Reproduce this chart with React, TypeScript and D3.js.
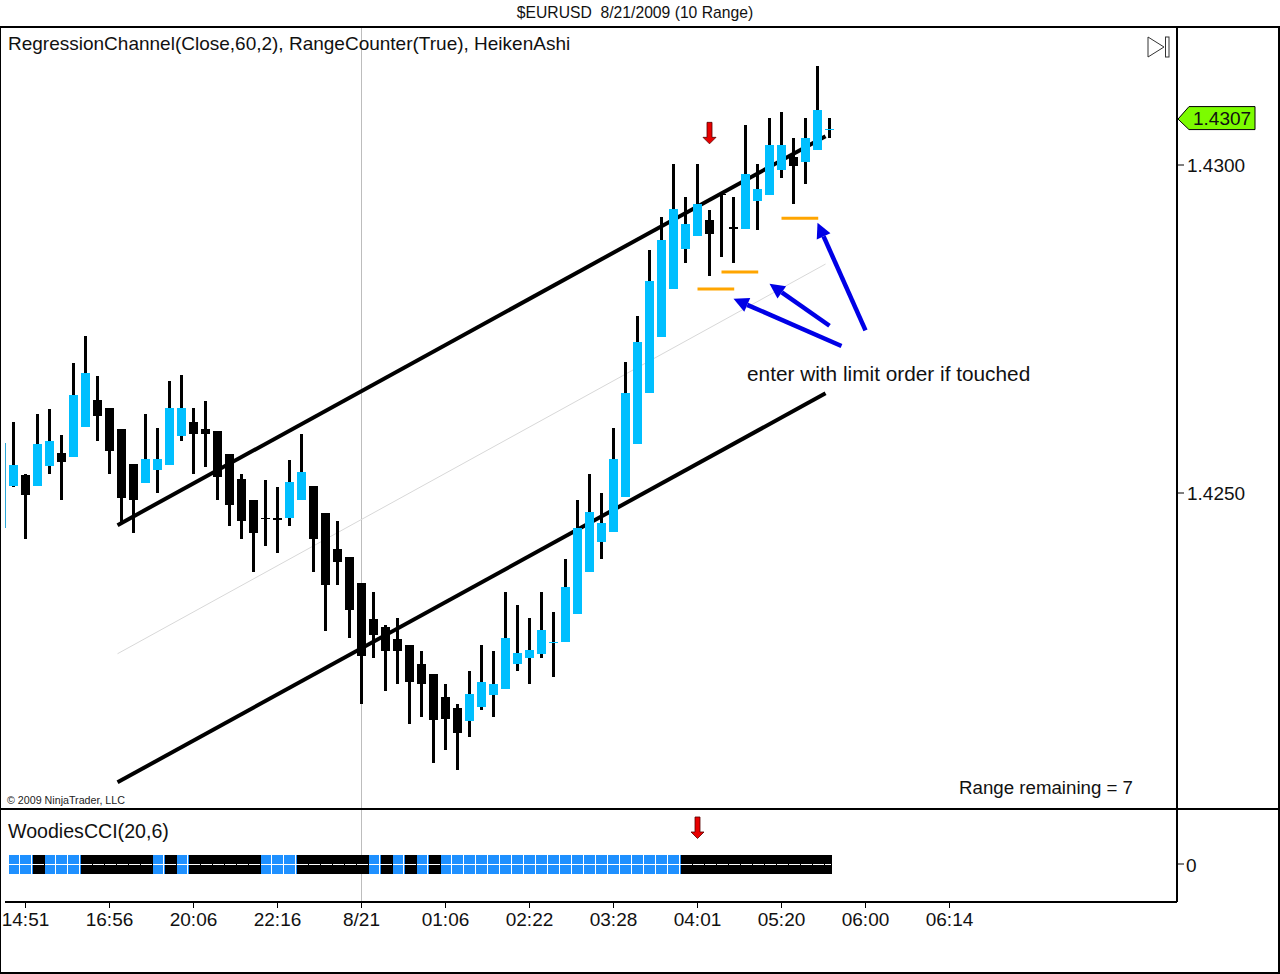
import React from 'react';
import * as d3 from 'd3';

// heiken ashi bars
const opens = [
  1.42511, 1.42527, 1.42511, 1.42541, 1.42561, 1.42555, 1.42601, 1.42642, 1.4263, 1.42598,
  1.42544, 1.42515, 1.42535, 1.42543, 1.42587, 1.42608, 1.42598, 1.42595, 1.42559, 1.42521,
  1.42489, 1.42462, 1.42462, 1.42462, 1.42489, 1.42511, 1.4247, 1.42415, 1.42402, 1.42363,
  1.42308, 1.42296, 1.42277, 1.42268, 1.42239, 1.42224, 1.42189, 1.42172, 1.42152, 1.42174,
  1.42192, 1.42201, 1.42239, 1.42248, 1.42255, 1.42272, 1.42273, 1.42316, 1.4238, 1.42425,
  1.42441, 1.42494, 1.42575, 1.42652, 1.42738, 1.42811, 1.42872, 1.42892, 1.42916, 1.42956,
  1.42905, 1.42902, 1.42945, 1.42954, 1.42992, 1.43012, 1.43005, 1.43023, 1.43054,
];
const highs = [
  1.42608, 1.42529, 1.4262, 1.42628, 1.42588, 1.42698, 1.42739, 1.42678, 1.4263, 1.42598,
  1.42544, 1.4262, 1.42599, 1.42671, 1.4268, 1.4263, 1.4264, 1.42595, 1.42559, 1.42529,
  1.42489, 1.4252, 1.42509, 1.4255, 1.4259, 1.42511, 1.4247, 1.42457, 1.42402, 1.42363,
  1.42349, 1.42299, 1.42309, 1.42268, 1.42259, 1.42224, 1.42209, 1.42178, 1.42229, 1.42268,
  1.42259, 1.42349, 1.42329, 1.42309, 1.42349, 1.42319, 1.42399, 1.42489, 1.42529, 1.425,
  1.42599, 1.427, 1.4277, 1.4287, 1.42921, 1.43002, 1.42951, 1.43002, 1.42931, 1.42957,
  1.42951, 1.43061, 1.43002, 1.43072, 1.43081, 1.43041, 1.43072, 1.43151, 1.43072,
];
const lows = [
  1.42509, 1.4243, 1.42511, 1.42529, 1.42489, 1.42555, 1.42601, 1.42579, 1.42529, 1.42454,
  1.42439, 1.42515, 1.425, 1.42543, 1.42579, 1.42529, 1.4254, 1.42489, 1.4245, 1.4243,
  1.4238, 1.42419, 1.42409, 1.4245, 1.42489, 1.4238, 1.4229, 1.4236, 1.42279, 1.42178,
  1.42248, 1.42198, 1.42209, 1.42148, 1.42159, 1.42088, 1.42108, 1.42078, 1.42128, 1.42169,
  1.42159, 1.42201, 1.42229, 1.42209, 1.42248, 1.4222, 1.42273, 1.42316, 1.4238, 1.42399,
  1.42441, 1.42494, 1.42575, 1.42652, 1.42738, 1.42811, 1.42851, 1.42892, 1.42831, 1.4286,
  1.42851, 1.42902, 1.42901, 1.42954, 1.4298, 1.42941, 1.42971, 1.43023, 1.43041,
];
const closes = [
  1.42543, 1.42497, 1.42575, 1.42579, 1.42547, 1.42649, 1.42683, 1.42617, 1.42564, 1.42492,
  1.42489, 1.42552, 1.42552, 1.4263, 1.4263, 1.4259, 1.4259, 1.42524, 1.42482, 1.42457,
  1.42439, 1.42461, 1.42459, 1.42517, 1.42532, 1.4243, 1.4236, 1.42395, 1.42322, 1.42252,
  1.42284, 1.42259, 1.42259, 1.42212, 1.42209, 1.42154, 1.42155, 1.42134, 1.42194, 1.42212,
  1.42209, 1.42279, 1.42256, 1.42261, 1.42291, 1.42273, 1.42357, 1.42447, 1.42471, 1.42454,
  1.42552, 1.42652, 1.4273, 1.42823, 1.42886, 1.42933, 1.4291, 1.42941, 1.42895, 1.42954,
  1.42902, 1.42986, 1.42963, 1.4303, 1.4303, 1.42998, 1.43041, 1.43084, 1.43055,
];

// only the right edge of the bar before the first one shows
const clippedBar = [1.42447, 1.42576];

const channelBars = [8.67, 67.67];
const upperChannel = [1.42451, 1.43044];
const midChannel = [1.42255, 1.42849];
const lowerChannel = [1.42059, 1.42652];

// orange limit levels
const orderBars = [57, 59, 64];
const orderPrices = [1.42811, 1.42837, 1.42919];
const orderSpan = 3.06;

// blue hand drawn arrows: tail bar/price, tip bar/price
const arrowTailBars = [69, 68, 71];
const arrowTailPrices = [1.42724, 1.42755, 1.42748];
const arrowTipBars = [60, 63, 67];
const arrowTipPrices = [1.42796, 1.42819, 1.42912];

const signalBar = 58;
const signalPrice = 1.43033;
const cciSignalBar = 57;

// WoodiesCCI state per bar, 1 = blue, 0 = black
const cciState = [
  1, 1, 0, 1, 1, 1, 0, 0, 0, 0, 0, 0, 1, 0, 1, 0, 0, 0, 0, 0, 0, 1, 1, 1, 0, 0, 0, 0, 0, 0,
  1, 0, 1, 0, 1, 0, 1, 1, 1, 1, 1, 1, 1, 1, 1, 1, 1, 1, 1, 1, 1, 1, 1, 1, 1, 1, 0, 0, 0, 0,
  0, 0, 0, 0, 0, 0, 0, 0, 0,
];

const priceTicks = [1.43, 1.425];
const lastPrice = 1.4307;
const timeLabels = ['14:51', '16:56', '20:06', '22:16', '8/21', '01:06', '02:22', '03:28', '04:01', '05:20', '06:00', '06:14'];
const timeTickStart = 1;
const timeTickStep = 7;
const dateBar = 29;

const BLUE = '#00bfff';
const CCI_BLUE = '#1e90ff';
const FONT = '"Liberation Sans", Arial, sans-serif';

const x = d3.scaleLinear().domain([0, 68]).range([13.5, 829.5]);
const y = d3.scaleLinear().domain([1.425, 1.43]).range([493, 165]);
const cciY = d3.scaleLinear().domain([-1, 1]).range([874, 855]);

const channelLine = (prices: number[]) =>
  d3.line<number>().x((_, i) => x(channelBars[i])).y(d => y(d))(prices) as string;

const ArrowHead = ({ x1, y1, x2, y2 }: { x1: number; y1: number; x2: number; y2: number }) => {
  const a = Math.atan2(y2 - y1, x2 - x1);
  const len = 15;
  const w = 7.5;
  const bx = x2 - len * Math.cos(a);
  const by = y2 - len * Math.sin(a);
  const pts = [
    [x2, y2],
    [bx - w * Math.sin(a), by + w * Math.cos(a)],
    [bx + w * Math.sin(a), by - w * Math.cos(a)],
  ];
  return (
    <g>
      <line x1={x1} y1={y1} x2={bx} y2={by} stroke="#0000e6" strokeWidth={4.5} />
      <polygon points={pts.join(' ')} fill="#0000e6" />
    </g>
  );
};

const RedArrow = ({ cx, tip }: { cx: number; tip: number }) => (
  <path
    d={`M${cx - 2.5},${tip - 21} h5 v15 h4 l-6.5,6.5 l-6.5,-6.5 h4 z`}
    fill="#e80000"
    stroke="#500"
    strokeWidth={0.8}
  />
);

export default function App() {
  const last = opens.length - 1;
  return (
    <svg
      width={1280}
      height={974}
      style={{ position: 'absolute', left: 0, top: 0, display: 'block', background: '#fff' }}
      fontFamily={FONT}
    >
      <text x={635} y={18} textAnchor="middle" fontSize={15.7} fill="#111" xmlSpace="preserve">
        {'$EURUSD  8/21/2009 (10 Range)'}
      </text>

      {/* date separator */}
      <line x1={x(dateBar)} x2={x(dateBar)} y1={27} y2={902} stroke="#bdbdbd" strokeWidth={1} />

      {/* regression channel */}
      <path d={channelLine(midChannel)} stroke="#d8d8d8" strokeWidth={1} fill="none" />
      <path d={channelLine(upperChannel)} stroke="#000" strokeWidth={4} fill="none" />
      <path d={channelLine(lowerChannel)} stroke="#000" strokeWidth={4} fill="none" />

      {/* candles */}
      <rect
        x={x(-1) + 3.5}
        width={1}
        y={y(clippedBar[1])}
        height={y(clippedBar[0]) - y(clippedBar[1])}
        fill="#2aa8d8"
        shapeRendering="crispEdges"
      />
      {opens.map((o, i) => {
        const c = closes[i];
        const up = c >= o;
        const top = y(Math.max(o, c));
        const h = Math.max(1.5, Math.abs(y(o) - y(c)));
        return (
          <g key={i} shapeRendering="crispEdges">
            <rect x={x(i) - 1.5} width={3} y={y(highs[i])} height={y(lows[i]) - y(highs[i])} fill="#000" />
            <rect x={x(i) - 4.5} width={9} y={top} height={h} fill={up ? BLUE : '#000'} />
          </g>
        );
      })}

      {/* limit levels */}
      {orderBars.map((b, i) => (
        <line
          key={i}
          x1={x(b)}
          x2={x(b + orderSpan)}
          y1={y(orderPrices[i])}
          y2={y(orderPrices[i])}
          stroke="#ffa500"
          strokeWidth={3}
        />
      ))}

      {arrowTailBars.map((b, i) => (
        <ArrowHead
          key={i}
          x1={x(b)}
          y1={y(arrowTailPrices[i])}
          x2={x(arrowTipBars[i])}
          y2={y(arrowTipPrices[i])}
        />
      ))}

      <RedArrow cx={x(signalBar)} tip={y(signalPrice)} />

      <text x={747} y={381} fontSize={20.8} fill="#111">enter with limit order if touched</text>
      <text x={959} y={794} fontSize={18.7} fill="#111">Range remaining = 7</text>
      <text x={7} y={804} fontSize={10.7} fill="#222">© 2009 NinjaTrader, LLC</text>
      <text x={8} y={49.5} fontSize={19} fill="#111">
        RegressionChannel(Close,60,2), RangeCounter(True), HeikenAshi
      </text>

      {/* cci panel */}
      <text x={8} y={838} fontSize={19.6} fill="#111">WoodiesCCI(20,6)</text>
      <RedArrow cx={x(cciSignalBar)} tip={838} />
      {cciState.map((s, i) => {
        const w = i === last ? 7 : 12;
        return (
          <g key={i} shapeRendering="crispEdges">
            <rect x={x(i) - 4.5} width={w} y={cciY(1)} height={cciY(-1) - cciY(1)} fill={s ? CCI_BLUE : '#000'} />
            <rect x={x(i) - 4.5} width={s ? w : w - 1} y={864} height={1} fill="#fff" />
            {s ? <rect x={x(i) + 5} width={1} y={cciY(1)} height={cciY(-1) - cciY(1)} fill="#fff" /> : null}
          </g>
        );
      })}

      {/* frames */}
      <g stroke="#000" strokeWidth={1.5} shapeRendering="crispEdges" fill="none">
        <rect x={0.5} y={27} width={1278.5} height={946} />
        <line x1={1177} x2={1177} y1={27} y2={902} />
        <line x1={0} x2={1280} y1={809} y2={809} />
        <line x1={5} x2={1177} y1={902} y2={902} />
      </g>

      {/* price axis */}
      {priceTicks.map(t => (
        <g key={t}>
          <line x1={1177} x2={1184} y1={y(t)} y2={y(t)} stroke="#000" />
          <text x={1187} y={y(t) + 7} fontSize={19} fill="#111">{t.toFixed(4)}</text>
        </g>
      ))}
      <line x1={1177} x2={1184} y1={864} y2={864} stroke="#000" />
      <text x={1186} y={872} fontSize={19} fill="#111">0</text>

      <path
        d={`M1178,${y(lastPrice)} L1189,${y(lastPrice) - 12.5} H1255 V${y(lastPrice) + 10.5} H1189 Z`}
        fill="#7cfc00"
        stroke="#000"
        strokeWidth={1}
      />
      <text x={1193} y={y(lastPrice) + 6} fontSize={19} fill="#111">{lastPrice.toFixed(4)}</text>

      {/* time axis */}
      {timeLabels.map((t, i) => {
        const tx = x(timeTickStart + i * timeTickStep);
        return (
          <g key={t}>
            <line x1={tx} x2={tx} y1={902} y2={908} stroke="#000" />
            <text x={tx} y={926} fontSize={19} textAnchor="middle" fill="#111">{t}</text>
          </g>
        );
      })}

      {/* go to last bar button */}
      <path d="M1148,37 L1164,47 L1148,57 Z" fill="none" stroke="#333" strokeWidth={1} />
      <rect x={1165.5} y={37} width={3.5} height={20} fill="none" stroke="#333" strokeWidth={1} />
    </svg>
  );
}
